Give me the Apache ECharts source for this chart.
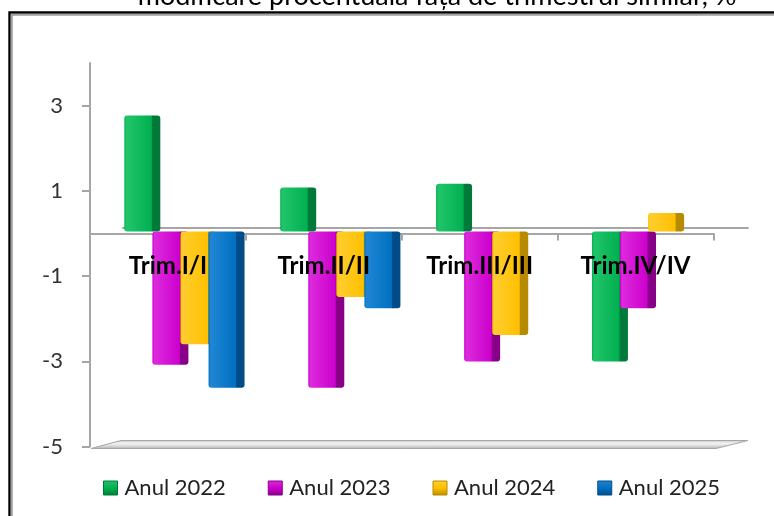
<!DOCTYPE html>
<html><head><meta charset="utf-8">
<script src="https://cdn.jsdelivr.net/npm/echarts@6/dist/echarts.min.js"></script>
<style>html,body{margin:0;padding:0;background:#fff}#c{width:774px;height:516px}</style>
</head><body><div id="c"></div>
<script>
const titleText = 'modificare procentuală față de trimestrul similar, %';
const categories = ['Trim.I/I', 'Trim.II/II', 'Trim.III/III', 'Trim.IV/IV'];
const seriesNames = ['Anul 2022', 'Anul 2023', 'Anul 2024', 'Anul 2025'];
const s2022 = [2.72, 1.03, 1.12, -3.05];
const s2023 = [-3.13, -3.67, -3.05, -1.8];
const s2024 = [-2.65, -1.54, -2.43, 0.43];
const s2025 = [-3.67, -1.8, null, null];
const yTicks = [-5, -3, -1, 1, 3];
const yMin = -5, yMax = 4;

const palette = [
  {face: '#00b050', light: '#22c46a', side: '#007a38'},
  {face: '#cc00cc', light: '#dc2adc', side: '#880088'},
  {face: '#ffc000', light: '#ffcd2e', side: '#b88a00'},
  {face: '#0070c0', light: '#1f86d4', side: '#004c88'}
];
function grad(p) {
  return new echarts.graphic.LinearGradient(0, 0, 1, 0, [
    {offset: 0, color: p.face}, {offset: 0.06, color: p.light},
    {offset: 0.75, color: p.face}, {offset: 0.78, color: p.side},
    {offset: 1, color: p.side}
  ]);
}
function iconGrad(p) {
  return new echarts.graphic.LinearGradient(0, 0, 0, 1, [
    {offset: 0, color: p.light}, {offset: 0.5, color: p.face}, {offset: 1, color: p.side}
  ]);
}
const FONT = 'Lato';
const allData = [s2022, s2023, s2024, s2025];

const chart = echarts.init(document.getElementById('c'), null, {renderer: 'canvas'});
const option = {
  animation: false,
  backgroundColor: '#fff',
  grid: [
    {left: 90, right: 60.5, top: 63, bottom: 69.5},
    {left: 106.5, right: 44, top: 61, bottom: 71.5},
    {left: 123, right: 26, top: 57, bottom: 75.5},
    {left: 90, right: 60.5, top: 63, bottom: 283.25}
  ],
  xAxis: [
    {type: 'category', gridIndex: 0, position: 'bottom', data: categories,
     axisLine: {onZero: true, lineStyle: {color: '#a6a6a6', width: 2}},
     axisTick: {show: true, length: 7, lineStyle: {color: '#a6a6a6', width: 2}},
     axisLabel: {show: false}, splitLine: {show: false}},
    {type: 'category', gridIndex: 3, position: 'bottom', data: categories, z: 10,
     axisLine: {show: false, onZero: false}, axisTick: {show: false},
     axisLabel: {show: true, margin: 22, fontFamily: FONT, fontWeight: 'bold', fontSize: 24, color: '#000'},
     splitLine: {show: false}},
    {type: 'category', gridIndex: 1, position: 'bottom', data: categories, show: false},
    {type: 'category', gridIndex: 2, position: 'bottom', data: categories,
     axisLine: {onZero: true, lineStyle: {color: '#a6a6a6', width: 2}},
     axisTick: {show: false}, axisLabel: {show: false}, splitLine: {show: false}}
  ],
  yAxis: [
    {type: 'value', gridIndex: 0, min: yMin, max: yMax, interval: 2,
     axisLine: {show: true, lineStyle: {color: '#a6a6a6', width: 2}},
     axisTick: {show: true, length: 8, customValues: yTicks, lineStyle: {color: '#a6a6a6', width: 2}},
     axisLabel: {customValues: yTicks, margin: 27, fontFamily: FONT, fontSize: 22, color: '#333', padding: [8, 0, 0, 0]},
     splitLine: {show: false}},
    {type: 'value', gridIndex: 1, min: yMin, max: yMax, show: false, splitLine: {show: false}},
    {type: 'value', gridIndex: 2, min: yMin, max: yMax, show: false, splitLine: {show: false}},
    {type: 'value', gridIndex: 3, min: 0, max: yMax, show: false, splitLine: {show: false}}
  ],
  legend: {
    left: 98, top: 472, itemWidth: 14, itemHeight: 14, itemGap: 42,
    icon: 'rect',
    textStyle: {fontFamily: FONT, fontSize: 22, color: '#222', padding: [0, 0, 0, 2]},
    data: seriesNames.map((n, i) => ({name: n, itemStyle: {color: iconGrad(palette[i]), borderColor: palette[i].side, borderWidth: 1}}))
  },
  series: allData.map((d, i) => ({
    name: seriesNames[i], type: 'bar', xAxisIndex: 2, yAxisIndex: 1,
    data: d, barWidth: 36, barGap: '-22%',
    itemStyle: {color: grad(palette[i]), borderRadius: 3}
  })),
  graphic: [
    {type: 'rect', silent: true, z: 100, shape: {x: 9.5, y: 12.5, width: 800, height: 600},
     style: {fill: 'none', stroke: '#000', lineWidth: 2.4}},
    {type: 'rect', silent: true, z: 100, shape: {x: 11.8, y: 14.8, width: 800, height: 600},
     style: {fill: 'none', stroke: '#a0a0a0', lineWidth: 2}},
    {type: 'text', silent: true, z: 100, x: 437, y: -3.5,
     style: {text: titleText, fill: '#000', font: '27px ' + FONT, align: 'center', verticalAlign: 'middle'}},
    {type: 'polygon', silent: true, z: 1,
     shape: {points: [[91, 448.5], [121, 440.5], [748, 440.5], [716, 448.5]]},
     style: {fill: new echarts.graphic.LinearGradient(0, 0, 0, 1, [
       {offset: 0, color: '#c8c8c8'}, {offset: 0.4, color: '#f4f4f4'}, {offset: 0.75, color: '#d0d0d0'}, {offset: 1, color: '#a8a8a8'}]),
       stroke: '#a6a6a6', lineWidth: 1}}
  ]
};
chart.setOption(option);
</script>
</body></html>
